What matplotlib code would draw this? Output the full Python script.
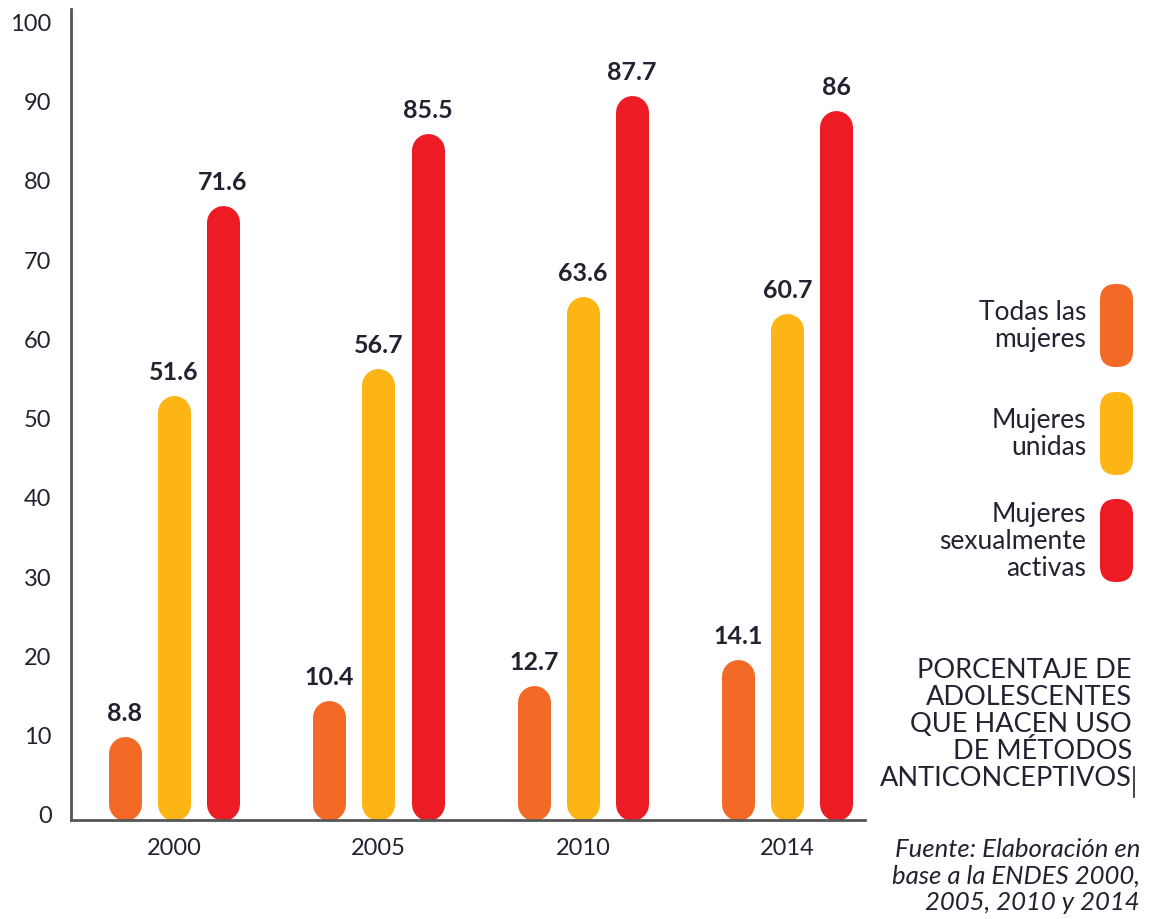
import matplotlib.pyplot as plt
import matplotlib.transforms as mtransforms
from matplotlib.patches import FancyBboxPatch
import numpy as np

plt.rcParams['font.family'] = ['Lato', 'DejaVu Sans']

# data
years = ['2000', '2005', '2010', '2014']
series_names = ['Todas las\nmujeres', 'Mujeres\nunidas', 'Mujeres\nsexualmente\nactivas']
# printed values
todas_lbl = ['8.8', '10.4', '12.7', '14.1']
unidas_lbl = ['51.6', '56.7', '63.6', '60.7']
activas_lbl = ['71.6', '85.5', '87.7', '86']
# bar heights as drawn in the picture
todas = [10.5, 15.1, 17.0, 20.2]
unidas = [53.6, 56.9, 66.0, 63.9]
activas = [77.5, 86.6, 91.4, 89.5]
yticks = [0, 10, 20, 30, 40, 50, 60, 70, 80, 90, 100]

colors = ['#F26A25', '#FDB515', '#ED1C24']
txt = '#222230'

W, H = 1151, 920
fig = plt.figure(figsize=(W / 100, H / 100), dpi=100)
ax = fig.add_axes([71 / W, 1 - 821 / H, (865 - 71) / W, (821 - 10) / H])

ymax = 102.3
ax.set_ylim(0, ymax)
ax.set_xlim(-0.504, 3.38)

# bar half width in data units
px_per_unit = (821 - 10) / ymax
r = 16.5 / px_per_unit
lw = 33 * 72 / 100

offsets = [-0.24, 0, 0.24]
x = np.arange(len(years))
for vals, lbls, off, c in zip([todas, unidas, activas],
                              [todas_lbl, unidas_lbl, activas_lbl], offsets, colors):
    for xi, v, l in zip(x, vals, lbls):
        ax.plot([xi + off, xi + off], [r, v - r], color=c, lw=lw,
                solid_capstyle='round')
        ax.annotate(l, (xi + off, v), xytext=(0, 9), textcoords='offset points',
                    ha='center', va='bottom', fontsize=18, fontweight='bold',
                    color=txt)

ax.set_xticks(x)
ax.set_xticklabels(years, fontsize=17, color=txt)
ax.set_yticks(yticks)
ax.set_yticklabels([str(t) for t in yticks], fontsize=17, color=txt)
ax.tick_params(axis='x', length=0, pad=12)
ax.tick_params(axis='y', length=0, pad=14)
shift = mtransforms.ScaledTranslation(0, 6 / 100, fig.dpi_scale_trans)
for lab in ax.get_yticklabels():
    lab.set_transform(lab.get_transform() + shift)

for s in ['top', 'right']:
    ax.spines[s].set_visible(False)
for s in ['left', 'bottom']:
    ax.spines[s].set_color('#555555')
    ax.spines[s].set_linewidth(2)

# overlay in pixel coordinates for the side legend and notes
ov = fig.add_axes([0, 0, 1, 1], facecolor='none')
ov.set_xlim(0, W)
ov.set_ylim(H, 0)
ov.axis('off')

legend_boxes = [(285, 368), (393, 476), (500, 583)]
for (top, bot), c, name in zip(legend_boxes, colors, series_names):
    ov.add_patch(FancyBboxPatch((1100, top), 33, bot - top,
                                boxstyle='round,pad=0,rounding_size=16',
                                fc=c, ec='none'))
    ov.text(1086, (top + bot) / 2, name, ha='right', va='center',
            fontsize=19, color=txt, linespacing=1.1)

ov.text(1132, 725, 'PORCENTAJE DE\nADOLESCENTES\nQUE HACEN USO\nDE MÉTODOS\nANTICONCEPTIVOS',
        ha='right', va='center', fontsize=19.5, color=txt, linespacing=1.1)
ov.plot([1134, 1134], [768, 798], color=txt, lw=1.2)

ov.text(1140, 876, 'Fuente: Elaboración en\nbase a la ENDES 2000,\n2005, 2010 y 2014',
        ha='right', va='center', fontsize=18.5, style='italic', color=txt,
        linespacing=1.2)

fig.savefig('out.png', dpi=100)
